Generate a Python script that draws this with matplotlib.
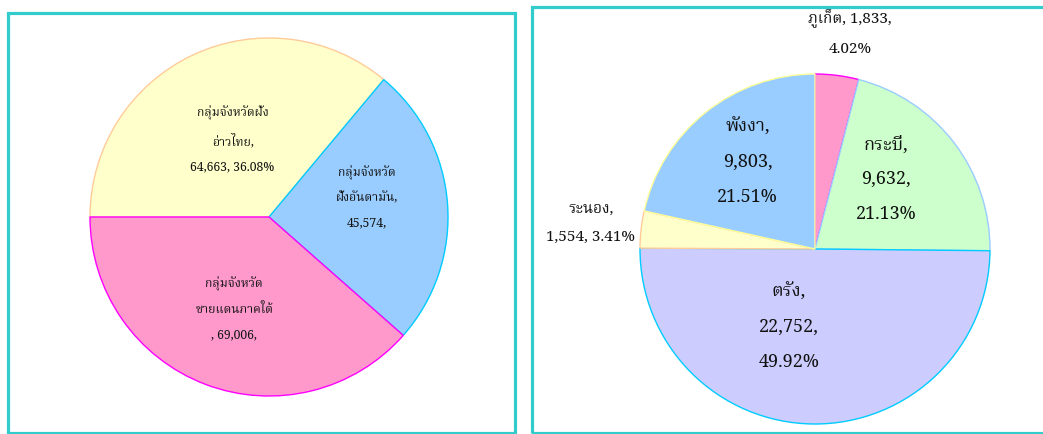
import matplotlib
matplotlib.use("Agg")
import numpy as np
import matplotlib.pyplot as plt
from matplotlib.patches import Rectangle

plt.rcParams['font.family'] = ['Noto Serif Thai', 'DejaVu Serif']

# left pie: regional groups
groups = ['ฝั่งอ่าวไทย', 'ฝั่งอันดามัน', 'ชายแดนภาคใต้']
group_values = [64663, 45574, 69006]
group_labels = ['กลุ่มจังหวัดฝั่ง\nอ่าวไทย,\n64,663, 36.08%',
                'กลุ่มจังหวัด\nฝั่งอันดามัน,\n45,574,',
                'กลุ่มจังหวัด\nชายแดนภาคใต้\n, 69,006,']
group_colors = ['#FFFFCC', '#99CCFF', '#FF99CC']
group_edges = ['#FFCC99', '#00CCFF', '#FF00FF']

# right pie: Andaman provinces
provinces = ['ภูเก็ต', 'กระบี่', 'ตรัง', 'ระนอง', 'พังงา']
prov_values = [1833, 9632, 22752, 1554, 9803]
prov_labels = ['ภูเก็ต, 1,833,\n4.02%', 'กระบี่,\n9,632,\n21.13%',
               'ตรัง,\n22,752,\n49.92%', 'ระนอง,\n1,554, 3.41%',
               'พังงา,\n9,803,\n21.51%']
prov_colors = ['#FF99CC', '#CCFFCC', '#CCCCFF', '#FFFFCC', '#99CCFF']
prov_edges = ['#FF00FF', '#99CCFF', '#00CCFF', '#FFCC99', '#FFFF99']

W, H = 1043, 434
fig = plt.figure(figsize=(W / 100, H / 100), dpi=100)

teal = '#33CCCC'
fig.patches.append(Rectangle((8 / W, 1 - 433 / H), 507 / W, 420 / H, transform=fig.transFigure,
                             fill=False, edgecolor=teal, linewidth=2.3))
fig.patches.append(Rectangle((532 / W, 1 - 433 / H), 520 / W, 426 / H, transform=fig.transFigure,
                             fill=False, edgecolor=teal, linewidth=2.3))


def pie_axes(cx, cy, r, half=220):
    ax = fig.add_axes([(cx - half) / W, (H - cy - half) / H, 2 * half / W, 2 * half / H])
    return ax


def draw_pie(ax, values, colors, edges, start, r, half=220):
    wedges, _ = ax.pie(values, colors=colors, startangle=start, counterclock=False,
                       wedgeprops=dict(linewidth=1.0), radius=1.0, frame=True)
    for w, ec in zip(wedges, edges):
        w.set_edgecolor(ec)
    ax.set_xlim(-half / r, half / r)
    ax.set_ylim(-half / r, half / r)
    ax.set_axis_off()
    return wedges


def place(ax, wedge, text, dist, shift, size, ls):
    ang = np.deg2rad((wedge.theta1 + wedge.theta2) / 2 + shift)
    ax.text(dist * np.cos(ang), dist * np.sin(ang), text, ha='center', va='center',
            fontsize=size, linespacing=ls, color='#111111', fontweight='semibold')


# left
axL = pie_axes(269, 217, 179)
wl = draw_pie(axL, group_values, group_colors, group_edges, 180, 179)
for w, t, d, s in zip(wl, group_labels, [0.48, 0.56, 0.55], [0, 7, 0]):
    place(axL, w, t, d, s, 8.8, 2.2)

# right
axR = pie_axes(815, 249, 175)
wr = draw_pie(axR, prov_values, prov_colors, prov_edges, 90, 175)
dists = [1.25, 0.57, 0.47, 1.29, 0.63]
shifts = [-2, 7, -18, 0, -1]
sizes = [11, 13, 13, 11, 13]
for w, t, d, s, fs in zip(wr, prov_labels, dists, shifts, sizes):
    place(axR, w, t, d, s, fs, 2.2)

fig.savefig("out.png", dpi=100)
